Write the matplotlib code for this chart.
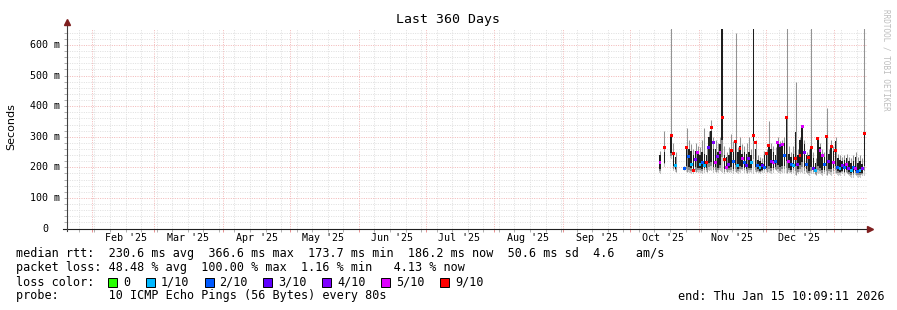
import datetime as dt
import numpy as np
import matplotlib
matplotlib.use('Agg')
import matplotlib.pyplot as plt
import matplotlib.dates as mdates
import matplotlib.transforms as mtrans
from matplotlib.patches import Rectangle

nan = np.nan

# time frame of the graph (rrdtool "last 360 days")
end = dt.datetime(2026, 1, 15, 10, 9, 11)
start = end - dt.timedelta(days=360)
first = dt.datetime(2025, 10, 14, 12, 0)   # first sample with data, one per day

# smoke: lowest ping, top of dense smoke, highest ping (ms); median (ms); lost pings of 10
ping_lo = [183, nan, 205, nan, nan, 230, 190, 185, nan, nan,
           nan, 190, 185, 185, 180, 180, 185, 185, 185, 180,
           185, 185, 190, 190, 185, 185, 185, 190, 185, 180,
           185, 185, 185, 180, 185, 180, 185, 190, 185, 180,
           185, 185, 180, 185, 185, 180, 185, 185, 185, 185,
           180, 185, 190, 185, 180, 185, 185, 180, 185, 180,
           185, 175, 180, 185, 185, 180, 180, 175, 180, 180,
           175, 180, 180, 175, 180, 175, 180, 175, 180, 180,
           175, 175, 180, 175, 180, 175, 170, 170, 175, 170,
           170, 175, 175]
ping_dense = [240, nan, 250, nan, nan, 300, 250, 235, nan, nan,
              nan, 200, 270, 260, 255, 240, 255, 250, 240, 250,
              245, 240, 300, 320, 260, 260, 250, 275, 660, 240,
              235, 240, 260, 250, 290, 250, 270, 245, 250, 245,
              250, 240, 660, 260, 225, 220, 215, 240, 250, 270,
              260, 250, 240, 285, 270, 280, 280, 365, 245, 235,
              245, 315, 240, 290, 330, 275, 240, 240, 270, 230,
              215, 290, 265, 245, 235, 305, 245, 270, 255, 285,
              230, 225, 220, 225, 230, 220, 215, 220, 235, 215,
              220, 210, 310]
ping_hi = [255, nan, 320, nan, nan, 660, 280, 250, nan, nan,
           nan, 205, 330, 290, 275, 260, 280, 270, 265, 290,
           330, 270, 320, 355, 300, 290, 280, 300, 660, 270,
           250, 265, 310, 285, 640, 265, 300, 275, 270, 280,
           300, 260, 660, 290, 240, 235, 230, 255, 260, 350,
           280, 270, 265, 300, 285, 290, 300, 660, 270, 250,
           270, 480, 260, 300, 340, 290, 250, 260, 660, 250,
           230, 300, 280, 260, 250, 393, 260, 290, 270, 300,
           245, 240, 235, 240, 245, 235, 230, 240, 250, 235,
           240, 230, 660]
median = [216, nan, 266, nan, nan, 305, 245, 205, nan, nan,
          nan, 197, 265, 235, 210, 190, 225, 250, 210, 215,
          205, 215, 265, 330, 280, 215, 235, 250, 364, 225,
          200, 210, 255, 220, 285, 205, 262, 230, 215, 205,
          230, 215, 305, 280, 205, 200, 205, 200, 245, 270,
          220, 215, 220, 280, 270, 275, 240, 362, 220, 210,
          205, 230, 210, 240, 334, 250, 210, 233, 265, 195,
          190, 295, 255, 240, 210, 300, 220, 268, 215, 255,
          200, 195, 205, 200, 210, 195, 190, 200, 195, 185,
          190, 195, 311]
loss = [5, 0, 9, 0, 0, 9, 9, 1, 0, 0,
        0, 2, 9, 2, 1, 9, 4, 5, 1, 2,
        1, 9, 3, 9, 4, 5, 4, 5, 9, 9,
        5, 4, 9, 2, 9, 1, 9, 5, 2, 3,
        4, 1, 9, 9, 2, 1, 3, 2, 9, 9,
        4, 5, 2, 5, 4, 5, 2, 9, 5, 2,
        1, 9, 4, 9, 5, 4, 2, 9, 9, 3,
        1, 9, 5, 5, 2, 9, 4, 9, 5, 9,
        2, 1, 4, 2, 5, 4, 1, 2, 5, 2,
        1, 4, 9]

loss_keys = [0, 1, 2, 3, 4, 5, 9]
loss_labels = ['0', '1/10', '2/10', '3/10', '4/10', '5/10', '9/10']
loss_colors = ['#26ff00', '#00b8ff', '#0059ff', '#5e00ff', '#7e00ff', '#dd00ff', '#ff0000']

month_labels = ["Feb '25", "Mar '25", "Apr '25", "May '25", "Jun '25", "Jul '25",
                "Aug '25", "Sep '25", "Oct '25", "Nov '25", "Dec '25"]
yticks = [0, 100, 200, 300, 400, 500, 600]

legend_rows = [
    "median rtt:  230.6 ms avg  366.6 ms max  173.7 ms min  186.2 ms now  50.6 ms sd  4.6   am/s",
    "packet loss: 48.48 % avg  100.00 % max  1.16 % min   4.13 % now",
    "loss color:",
    "probe:       10 ICMP Echo Pings (56 Bytes) every 80s",
]
end_text = "end: Thu Jan 15 10:09:11 2026"

W, H = 897, 310
MONO = 'DejaVu Sans Mono'


def fx(px):
    return px / W


def fy(py):
    return 1 - py / H


fig = plt.figure(figsize=(W / 100, H / 100), dpi=100)
fig.patch.set_facecolor('white')
ax = fig.add_axes([fx(66.5), fy(228.5), 800 / W, 200 / H])
ax.set_xlim(start, end)
ax.set_ylim(0, 654)
for s in ax.spines.values():
    s.set_visible(False)

# grid
ax.xaxis.set_major_locator(mdates.MonthLocator())
ax.xaxis.set_minor_locator(mdates.WeekdayLocator(byweekday=mdates.SU))
ax.yaxis.set_major_locator(matplotlib.ticker.MultipleLocator(100))
ax.yaxis.set_minor_locator(matplotlib.ticker.MultipleLocator(20))
ax.set_axisbelow(True)
ax.grid(which='minor', color='#dedede', lw=0.7, ls=(0, (1, 1.4)))
ax.grid(which='major', color='#f2b6b6', lw=0.7, ls=(0, (1, 1.4)))
ax.tick_params(which='both', labelbottom=False, labelleft=False, direction='out',
               length=2, width=0.7, color='#b0b0b0')
ax.tick_params(axis='x', which='major', color='#e89090')

# smoke + median
t = np.array([first + dt.timedelta(days=i) for i in range(len(median))])
lo = np.array(ping_lo, float)
dense = np.array(ping_dense, float)
hi = np.array(ping_hi, float)
med = np.array(median, float)
ok = ~np.isnan(med)
tn = mdates.date2num(t)

ax.vlines(tn[ok], lo[ok], hi[ok], color='#939393', lw=0.75, zorder=2)
span = dense[ok] - lo[ok]
for frac, col in [(0.0, '#c8c8c8'), (0.1, '#8a8a8a'), (0.22, '#1e1e1e')]:
    ax.bar(tn[ok], span * (1 - frac), bottom=lo[ok] + frac * span, width=0.7,
           color=col, lw=0, zorder=3)

cmap = dict(zip(loss_keys, loss_colors))
mcol = [cmap[l] for l in np.array(loss)[ok]]
ax.scatter(tn[ok], med[ok], marker='s', s=4.5, c=mcol, lw=0, zorder=4)

# axes lines and arrows
ax.plot([-0.004, 1.004], [0, 0], transform=ax.transAxes, color='#1f1f1f', lw=0.8,
        clip_on=False, zorder=5)
ax.plot([0, 0], [-0.01, 1.03], transform=ax.transAxes, color='#404040', lw=0.8,
        clip_on=False, zorder=5)
ax.plot([1.0045], [0], marker='>', ms=5, color='#7f1f1f', transform=ax.transAxes,
        clip_on=False, zorder=6)
ax.plot([0], [1.032], marker='^', ms=5, color='#7f1f1f', transform=ax.transAxes,
        clip_on=False, zorder=6)

# tick labels
xlab_tr = mtrans.blended_transform_factory(ax.transData, ax.transAxes)
for i, lab in enumerate(month_labels):
    d = dt.datetime(2025, i + 2, 1) + dt.timedelta(days=15)
    ax.text(mdates.date2num(d), -9.5 / 200, lab, ha='center', va='center',
            transform=xlab_tr, family=MONO, size=7.2)
ylab_tr = mtrans.blended_transform_factory(ax.transAxes, ax.transData)
for v in yticks:
    if v == 0:
        ax.text(-18.5 / 800, v, '0', ha='right', va='center', transform=ylab_tr,
                family=MONO, size=7.2)
    else:
        ax.text(-6.5 / 800, v, f'{v} m', ha='right', va='center', transform=ylab_tr,
                family=MONO, size=7.2)

fig.text(fx(447.5), fy(19), 'Last 360 Days', ha='center', va='center', family=MONO, size=9.5)
fig.text(fx(11), fy(127), 'Seconds', rotation=90, ha='center', va='center',
         family='DejaVu Sans', size=8)
fig.text(fx(886), fy(60), 'RRDTOOL / TOBI OETIKER', rotation=270, ha='center', va='center',
         family=MONO, size=5.5, color='#bdbdbd')

# legend block
row_y = [254, 268, 282, 296]
cw = 7.1
for y, line in zip(row_y, legend_rows):
    fig.text(fx(16), fy(y), line, ha='left', va='center', family=MONO, size=8.5)
fig.text(fx(678), fy(296), end_text, ha='left', va='center', family=MONO, size=8.5)

bx = 108
for lab, col in zip(loss_labels, loss_colors):
    fig.add_artist(Rectangle((fx(bx), fy(286.5)), 9 / W, 9 / H, transform=fig.transFigure,
                             facecolor=col, edgecolor='black', lw=0.7))
    fig.text(fx(bx + 15), fy(282), lab, ha='left', va='center', family=MONO, size=8.5)
    bx = bx + 15 + len(lab) * cw + 15.5

fig.savefig('out.png', dpi=100, facecolor='white')
